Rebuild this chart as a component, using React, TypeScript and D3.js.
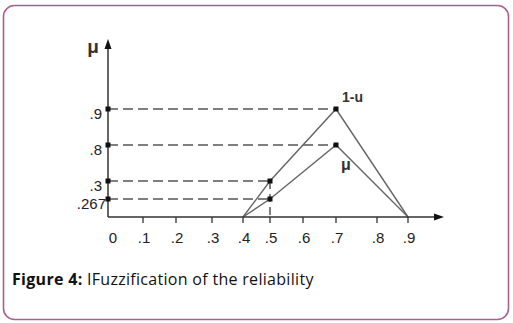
import React from "react";
import * as d3 from "d3";

const xTickValues = [0, 0.1, 0.2, 0.3, 0.4, 0.5, 0.6, 0.7, 0.8, 0.9];
const xTickLabels = ["0", ".1", ".2", ".3", ".4", ".5", ".6", ".7", ".8", ".9"];
const yTickValues = [0.267, 0.3, 0.8, 0.9];
const yTickLabels = [".267", ".3", ".8", ".9"];

const seriesX = [0.4, 0.5, 0.7, 0.9];
const oneMinusU = [0, 0.3, 0.9, 0];
const muValues = [0, 0.267, 0.8, 0];
const seriesNames = ["1-u", "μ"];

export default function App() {
  const W = 513, H = 323;
  const ox = 108, oy = 217;
  // the figure's axes are schematic (non-uniform), so piecewise-linear scales
  const x = d3.scaleLinear()
    .domain(xTickValues)
    .range([0, 35, 68, 104, 135, 162, 195, 228, 269, 300].map((d) => ox + d));
  const y = d3.scaleLinear()
    .domain([0, ...yTickValues])
    .range([0, -18, -36, -72, -108].map((d) => oy + d));

  const line = d3.line<[number, number]>().x((d) => x(d[0])).y((d) => y(d[1]));
  const s1 = seriesX.map((v, i) => [v, oneMinusU[i]] as [number, number]);
  const s2 = seriesX.map((v, i) => [v, muValues[i]] as [number, number]);
  const markPts = [s1[1], s1[2], s2[1], s2[2]];

  const axisColor = "#333";
  const lineColor = "#666";
  const dashColor = "#555";
  const font = "'Liberation Sans', Arial, sans-serif";

  return (
    <svg width={W} height={H} style={{ position: "absolute", left: 0, top: 0 }}>
      <rect x={0} y={0} width={W} height={H} fill="#fff" />
      <rect x={3.5} y={5.5} width={505} height={314} rx={11} ry={11}
        fill="none" stroke="#a8608f" strokeWidth={1.6} />

      {/* dashed guides */}
      {markPts.map((p, i) => (
        <line key={"dh" + i} x1={ox} x2={x(p[0])} y1={y(p[1])} y2={y(p[1])}
          stroke={dashColor} strokeWidth={1.5} strokeDasharray="10,5" />
      ))}
      <line x1={x(s1[1][0])} x2={x(s1[1][0])} y1={y(s1[1][1])} y2={oy}
        stroke={dashColor} strokeWidth={1.5} strokeDasharray="8,5" />

      {/* series lines */}
      <path d={line(s1) || ""} fill="none" stroke={lineColor} strokeWidth={1.4} />
      <path d={line(s2) || ""} fill="none" stroke={lineColor} strokeWidth={1.4} />

      {/* axes */}
      <line x1={ox} x2={ox} y1={oy} y2={45} stroke={axisColor} strokeWidth={1.5} />
      <path d={`M${ox},39 L${ox - 3.5},49 L${ox + 3.5},49 Z`} fill="#111" />
      <line x1={ox} x2={437} y1={oy} y2={oy} stroke={axisColor} strokeWidth={1.5} />
      <path d={`M444,${oy} L434,${oy - 3.5} L434,${oy + 3.5} Z`} fill="#111" />

      {xTickValues.map((v, i) => (
        <g key={"xt" + i}>
          {i > 0 && (
            <line x1={x(v)} x2={x(v)} y1={oy} y2={oy + 6} stroke={axisColor} strokeWidth={1.3} />
          )}
          <text x={x(v) + (i === 0 ? 5 : 1)} y={243} textAnchor="middle"
            fontFamily={font} fontSize={15} fill="#222">{xTickLabels[i]}</text>
        </g>
      ))}
      {yTickValues.map((v, i) => (
        <text key={"yt" + i} x={i === 0 ? 106 : 102} y={y(v) + 10} textAnchor="end"
          fontFamily={font} fontSize={15} fill="#222">{yTickLabels[i]}</text>
      ))}

      {/* markers */}
      {markPts.map((p, i) => (
        <g key={"m" + i}>
          <rect x={ox - 2.5} y={y(p[1]) - 2.5} width={5} height={5} fill="#111" />
          <rect x={x(p[0]) - 2.5} y={y(p[1]) - 2.5} width={5} height={5} fill="#111" />
        </g>
      ))}

      {/* labels */}
      <text x={93} y={53} textAnchor="middle" fontFamily={font} fontSize={19}
        fontWeight="bold" fill="#333">μ</text>
      <text x={x(s1[2][0]) + 6} y={y(s1[2][1]) - 7} fontFamily={font} fontSize={14}
        fontWeight="bold" fill="#333">{seriesNames[0]}</text>
      <text x={x(s2[2][0]) + 5} y={y(s2[2][1]) + 25} fontFamily={font} fontSize={16}
        fontWeight="bold" fill="#333">{seriesNames[1]}</text>

      {/* caption */}
      <text x={12} y={285} fontFamily="'Open Sans', Lato, sans-serif" fontSize={16}
        letterSpacing={0.3} fill="#111">
        <tspan fontWeight="bold">Figure 4:</tspan>
        <tspan> IFuzzification of the reliability</tspan>
      </text>
    </svg>
  );
}
